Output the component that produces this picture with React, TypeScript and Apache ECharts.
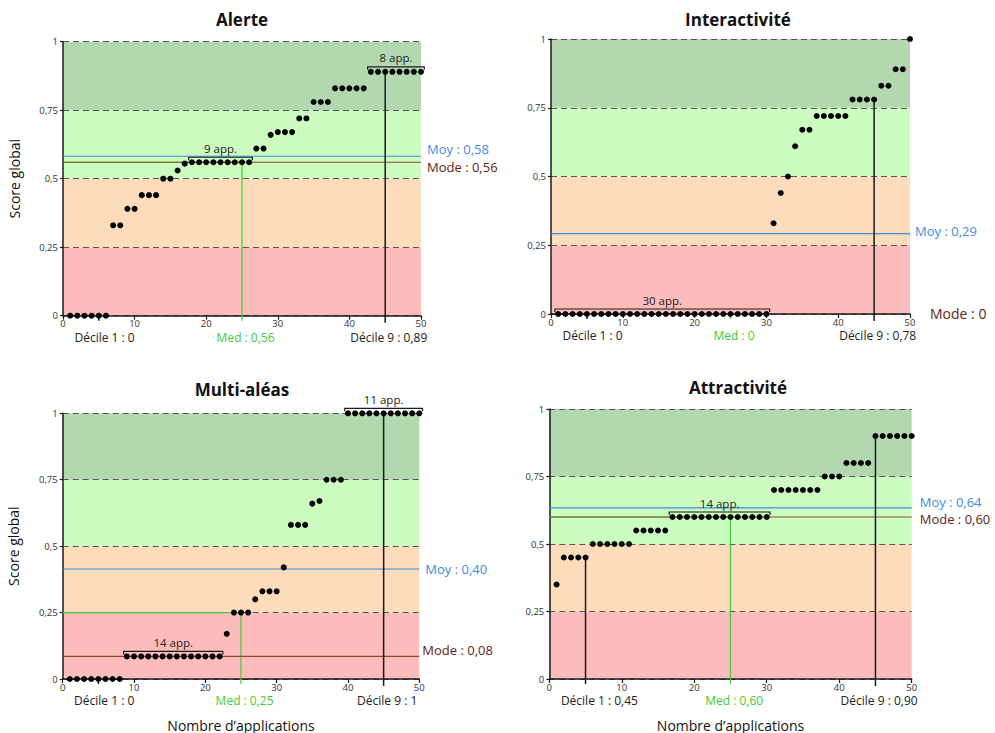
import React, { useEffect, useRef } from "react";
import * as echarts from "echarts";

const FONT = "'Open Sans', 'Noto Sans', sans-serif";

// ---------- DATA ----------
const panelTitles = ["Alerte", "Interactivité", "Multi-aléas", "Attractivité"];

const alerteScores = [
  0, 0, 0, 0, 0, 0, 0.33, 0.33, 0.39, 0.39, 0.44, 0.44, 0.44, 0.5, 0.5, 0.53, 0.555,
  0.56, 0.56, 0.56, 0.56, 0.56, 0.56, 0.56, 0.56, 0.56, 0.61, 0.61, 0.66, 0.67, 0.67, 0.67,
  0.72, 0.72, 0.78, 0.78, 0.78, 0.83, 0.83, 0.83, 0.83, 0.83,
  0.89, 0.89, 0.89, 0.89, 0.89, 0.89, 0.89, 0.89,
];
const interactiviteScores = [
  0, 0, 0, 0, 0, 0, 0, 0, 0, 0, 0, 0, 0, 0, 0, 0, 0, 0, 0, 0, 0, 0, 0, 0, 0, 0, 0, 0, 0, 0,
  0.33, 0.44, 0.5, 0.61, 0.67, 0.67, 0.72, 0.72, 0.72, 0.72, 0.72, 0.78, 0.78, 0.78, 0.78,
  0.83, 0.83, 0.89, 0.89, 1,
];
const multiAleasScores = [
  0, 0, 0, 0, 0, 0, 0, 0,
  0.085, 0.085, 0.085, 0.085, 0.085, 0.085, 0.085, 0.085, 0.085, 0.085, 0.085, 0.085, 0.085, 0.085,
  0.17, 0.25, 0.25, 0.25, 0.3, 0.33, 0.33, 0.33, 0.42, 0.58, 0.58, 0.58, 0.66, 0.67,
  0.75, 0.75, 0.75, 1, 1, 1, 1, 1, 1, 1, 1, 1, 1, 1,
];
const attractiviteScores = [
  0.35, 0.45, 0.45, 0.45, 0.45, 0.5, 0.5, 0.5, 0.5, 0.5, 0.5, 0.55, 0.55, 0.55, 0.55, 0.55,
  0.6, 0.6, 0.6, 0.6, 0.6, 0.6, 0.6, 0.6, 0.6, 0.6, 0.6, 0.6, 0.6, 0.6,
  0.7, 0.7, 0.7, 0.7, 0.7, 0.7, 0.7, 0.75, 0.75, 0.75, 0.8, 0.8, 0.8, 0.8,
  0.9, 0.9, 0.9, 0.9, 0.9, 0.9,
];
const panelScores = [alerteScores, interactiviteScores, multiAleasScores, attractiviteScores];

const meanValues = [0.582, 0.292, 0.414, 0.634];
const meanLabels = ["Moy : 0,58", "Moy : 0,29", "Moy : 0,40", "Moy : 0,64"];
const modeValues = [0.56, 0, 0.085, 0.6];
const modeLabels = ["Mode : 0,56", "Mode : 0", "Mode : 0,08", "Mode : 0,60"];
const medianValues = [0.56, 0, 0.25, 0.6];
const medianLabels = ["Med : 0,56", "Med : 0", "Med : 0,25", "Med : 0,60"];
const decile1Values = [0, 0, 0, 0.45];
const decile1Labels = ["Décile 1 : 0", "Décile 1 : 0", "Décile 1 : 0", "Décile 1 : 0,45"];
const decile9Values = [0.89, 0.78, 1, 0.9];
const decile9Labels = ["Décile 9 : 0,89", "Décile 9 : 0,78", "Décile 9 : 1", "Décile 9 : 0,90"];
const decile1Rank = 5;
const medianRank = 25;
const decile9Rank = 45;

// groups of equal scores: [first rank, last rank, score, label]
const panelGroups: [number, number, number, string][][] = [
  [[18, 26, 0.56, "9 app."], [43, 50, 0.89, "8 app."]],
  [[1, 30, 0, "30 app."]],
  [[9, 22, 0.085, "14 app."], [40, 50, 1, "11 app."]],
  [[17, 30, 0.6, "14 app."]],
];

const yAxisTitle = "Score global";
const xAxisTitle = "Nombre d’applications";

// ---------- LAYOUT / STYLE ----------
const grids = [
  { left: 63, top: 41.7, width: 358, height: 274 },
  { left: 551, top: 39, width: 359, height: 275 },
  { left: 62.7, top: 413.3, width: 356.6, height: 272.4 },
  { left: 549.3, top: 409, width: 362.4, height: 277 },
];
const titlePos = [
  { x: 242, y: 11 },
  { x: 738, y: 11 },
  { x: 242, y: 381 },
  { x: 738, y: 379 },
];
// [dx, dy] pixel offsets of the right-hand labels
const meanLabelOffset = [[6, -7], [5, -3], [6, 0], [8, -6]];
const modeLabelOffset = [[6, 5], [20, -1], [3, -6], [8, 2]];
const modeFontSize = [13, 14, 13, 13];

const BAND_COLORS = ["#fdbcbc", "#fddcbb", "#ccfcc0", "#b3d8b0"];
const BLUE = "#3d8de0";
const BROWN_LINE = "#8a4b2c";
const BROWN_TEXT = "#5e2416";
const GREEN = "#3fcb3a";
const BLACK = "#1a1a1a";

function fmtY(v: number) {
  if (v === 0) return "0";
  if (v === 1) return "1";
  return String(v).replace(".", ",");
}

function makeRenderer(p: number) {
  return (_params: any, api: any) => {
    const c = (x: number, y: number) => api.coord([x, y]);
    const children: any[] = [];
    const base = c(0, 0)[1];
    const ext = 7;
    const seg = (x1: number, y1: number, x2: number, y2: number, stroke: string, lw: number) => ({
      type: "line",
      shape: { x1, y1, x2, y2 },
      style: { stroke, lineWidth: lw },
      silent: true,
    });
    const txt = (x: number, y: number, text: string, fill: string, size: number, align: string, vAlign = "middle") => ({
      type: "text",
      x,
      y,
      style: { text, fill, fontSize: size, fontFamily: FONT, align, verticalAlign: vAlign },
      silent: true,
    });

    // median
    const med = medianValues[p];
    const mTop = c(medianRank, med);
    if (med > 0) {
      const a = c(0, med);
      children.push(seg(a[0], a[1], mTop[0], mTop[1], GREEN, 1.2));
    }
    children.push(seg(mTop[0], base + ext - 2, mTop[0], mTop[1], GREEN, 1.2));

    // mean
    const m0 = c(0, meanValues[p]);
    const m1 = c(50, meanValues[p]);
    children.push(seg(m0[0], m0[1], m1[0], m1[1], BLUE, 1.2));

    // mode
    const mo0 = c(0, modeValues[p]);
    const mo1 = c(50, modeValues[p]);
    if (modeValues[p] > 0) children.push(seg(mo0[0], mo0[1], mo1[0], mo1[1], BROWN_LINE, 1.2));

    // deciles
    const d1 = c(decile1Rank, decile1Values[p]);
    children.push(seg(d1[0], base + ext - 2, d1[0], d1[1], BLACK, 1.5));
    const d9 = c(decile9Rank, decile9Values[p]);
    children.push(seg(d9[0], base + ext, d9[0], d9[1], BLACK, 1.5));

    // brackets
    panelGroups[p].forEach(([r1, r2, v, label]) => {
      const a = c(r1 - 0.45, v);
      const b = c(r2 + 0.45, v);
      const y = a[1] - 5;
      children.push({
        type: "polyline",
        shape: { points: [[a[0], y + 3], [a[0], y], [b[0], y], [b[0], y + 3]] },
        style: { stroke: BLACK, lineWidth: 1.2, fill: "none" },
        silent: true,
      });
      children.push(txt((a[0] + b[0]) / 2, y - 9, label, "#222", 11.5, "center"));
    });

    // right-hand labels
    children.push(
      txt(m1[0] + meanLabelOffset[p][0], m1[1] + meanLabelOffset[p][1], meanLabels[p], BLUE, 13, "left")
    );
    children.push(
      txt(mo1[0] + modeLabelOffset[p][0], mo1[1] + modeLabelOffset[p][1], modeLabels[p], BROWN_TEXT, modeFontSize[p], "left")
    );

    // labels under the axis
    const below = base + 21.5;
    children.push(txt(c(1.6, 0)[0], below, decile1Labels[p], "#222", 12, "left"));
    children.push(txt(c(25.5, 0)[0], below, medianLabels[p], GREEN, 12, "center"));
    children.push(txt(c(45.5, 0)[0], below, decile9Labels[p], "#222", 12, "center"));

    return { type: "group", children };
  };
}

export default function App() {
  const ref = useRef<HTMLDivElement>(null);
  useEffect(() => {
    if (!ref.current) return;
    const chart = echarts.init(ref.current, undefined, { renderer: "svg" });
    const option: any = {
      animation: false,
      backgroundColor: "#ffffff",
      textStyle: { fontFamily: FONT },
      title: panelTitles.map((t, i) => ({
        text: t,
        left: titlePos[i].x,
        top: titlePos[i].y,
        textAlign: "center",
        padding: 0,
        textStyle: { fontSize: 17, fontWeight: "bold", color: "#111", fontFamily: FONT },
      })),
      grid: grids.map((g) => ({ ...g, containLabel: false })),
      xAxis: grids.map((_, i) => ({
        type: "value",
        gridIndex: i,
        min: 0,
        max: 50,
        interval: 10,
        name: i >= 2 ? xAxisTitle : "",
        nameLocation: "middle",
        nameGap: 39,
        nameTextStyle: { fontSize: 14, color: "#111", fontFamily: FONT },
        axisLine: { show: true, lineStyle: { color: BLACK, width: 1.5 } },
        axisTick: { show: true, length: 4, lineStyle: { color: BLACK, width: 1.2 } },
        axisLabel: { fontSize: 9.5, color: "#333", margin: 3, fontFamily: FONT },
        splitLine: { show: false },
      })),
      yAxis: grids.map((_, i) => ({
        type: "value",
        gridIndex: i,
        min: 0,
        max: 1,
        interval: 0.25,
        name: i % 2 === 0 ? yAxisTitle : "",
        nameLocation: "middle",
        nameRotate: 90,
        nameGap: 42,
        nameTextStyle: { fontSize: 14, color: "#111", fontFamily: FONT },
        axisLine: { show: true, lineStyle: { color: BLACK, width: 1.5 } },
        axisTick: { show: true, length: 3, lineStyle: { color: BLACK, width: 1.2 } },
        axisLabel: { fontSize: 9.5, color: "#333", margin: 5, fontFamily: FONT, formatter: fmtY },
        splitArea: { show: true, areaStyle: { color: BAND_COLORS, opacity: 1 } },
        splitLine: { show: true, lineStyle: { color: "#555", width: 1, type: [6, 4] } },
      })),
      series: [
        ...panelScores.map((s, i) => ({
          type: "custom",
          xAxisIndex: i,
          yAxisIndex: i,
          clip: false,
          z: 2,
          silent: true,
          data: [[0, 0]],
          renderItem: makeRenderer(i),
        })),
        ...panelScores.map((s, i) => ({
          type: "scatter",
          xAxisIndex: i,
          yAxisIndex: i,
          z: 3,
          symbolSize: 6,
          itemStyle: { color: "#000", opacity: 1 },
          data: s.map((v, k) => [k + 1, v]),
        })),
      ],
    };
    chart.setOption(option);
    return () => chart.dispose();
  }, []);
  return (
    <div
      ref={ref}
      style={{ position: "fixed", left: 0, top: 0, width: 995, height: 733, background: "#fff" }}
    />
  );
}
